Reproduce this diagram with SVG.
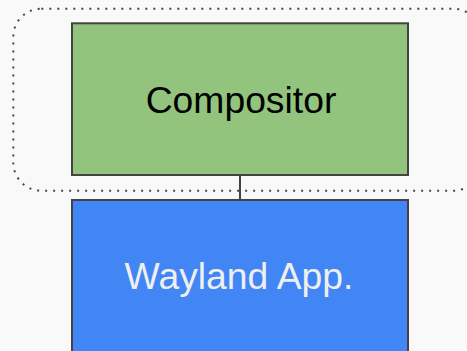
<svg xmlns="http://www.w3.org/2000/svg" width="467" height="351" viewBox="0 0 467 351">
<style>
.box{stroke:#434343;stroke-width:2}
.lbl{font-family:"Liberation Sans",Arial,sans-serif;font-size:37.3px;text-anchor:middle}
</style>
<rect x="0" y="0" width="467" height="351" fill="#f9f9f9"/>
<g id="group-boundary">
<rect x="13.3" y="8.7" width="468" height="182" rx="28" ry="28" fill="none" stroke="#444" stroke-width="2" stroke-dasharray="2 6"/>
</g>
<g id="connectors">
<line x1="240" y1="175" x2="240" y2="200" stroke="#434343" stroke-width="2"/>
</g>
<g id="compositor">
<rect class="box" x="72" y="23.3" width="336" height="151.7" fill="#93c47d"/>
<text class="lbl" x="241" y="112.7" fill="#000">Compositor</text>
</g>
<g id="wayland-app">
<rect class="box" x="72" y="200" width="336" height="160" fill="#4285f4"/>
<text class="lbl" x="239" y="289.3" fill="#efefef">Wayland App.</text>
</g>
</svg>
